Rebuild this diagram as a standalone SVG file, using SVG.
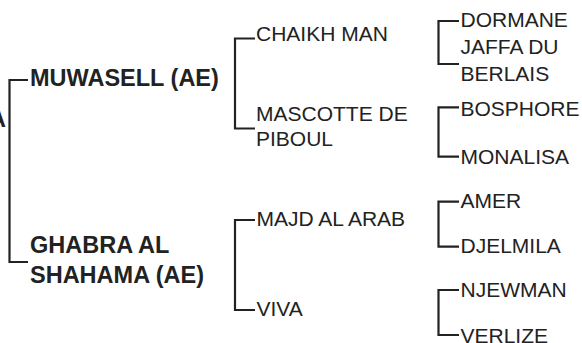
<svg xmlns="http://www.w3.org/2000/svg" width="582" height="343" viewBox="0 0 582 343">
<style>
.b{font-family:"Liberation Sans",Arial,sans-serif;font-weight:bold;font-size:23.5px;fill:#222}
.r{font-family:"Liberation Sans",Arial,sans-serif;font-size:21px;fill:#222}
.c{fill:none;stroke:#222;stroke-width:2.2}
</style>
<rect width="582" height="343" fill="#fff"/>
<g id="connectors">
<path class="c" d="M28,80 H9.5 V262 H28"/>
<path class="c" d="M255,38.5 H235 V128.5 H255"/>
<path class="c" d="M255,220 H235 V310 H255"/>
<path class="c" d="M459,21 H438.5 V64 H459"/>
<path class="c" d="M459,107.3 H438.5 V156.7 H459"/>
<path class="c" d="M459,201.7 H438.5 V246.7 H459"/>
<path class="c" d="M459,290 H438.5 V335 H459"/>
</g>
<g id="root"><text class="b" x="6" y="126.5" text-anchor="end">A</text></g>
<g id="muwasell"><text class="b" x="30" y="86">MUWASELL (AE)</text></g>
<g id="ghabra"><text class="b" x="30" y="252.5">GHABRA AL</text><text class="b" x="30" y="283">SHAHAMA (AE)</text></g>
<g id="chaikh"><text class="r" x="256" y="41">CHAIKH MAN</text></g>
<g id="mascotte"><text class="r" x="256" y="121">MASCOTTE DE</text><text class="r" x="256" y="146">PIBOUL</text></g>
<g id="majd"><text class="r" x="256.5" y="226">MAJD AL ARAB</text></g>
<g id="viva"><text class="r" x="256.5" y="316">VIVA</text></g>
<g id="dormane"><text class="r" x="460.5" y="26.7">DORMANE</text></g>
<g id="jaffa"><text class="r" x="460.5" y="54">JAFFA DU</text><text class="r" x="460.5" y="81">BERLAIS</text></g>
<g id="bosphore"><text class="r" x="460.5" y="116">BOSPHORE</text></g>
<g id="monalisa"><text class="r" x="460.5" y="164">MONALISA</text></g>
<g id="amer"><text class="r" x="460.5" y="208.3">AMER</text></g>
<g id="djelmila"><text class="r" x="460.5" y="253.3">DJELMILA</text></g>
<g id="njewman"><text class="r" x="460.5" y="297.3">NJEWMAN</text></g>
<g id="verlize"><text class="r" x="460.5" y="343.3">VERLIZE</text></g>
</svg>
